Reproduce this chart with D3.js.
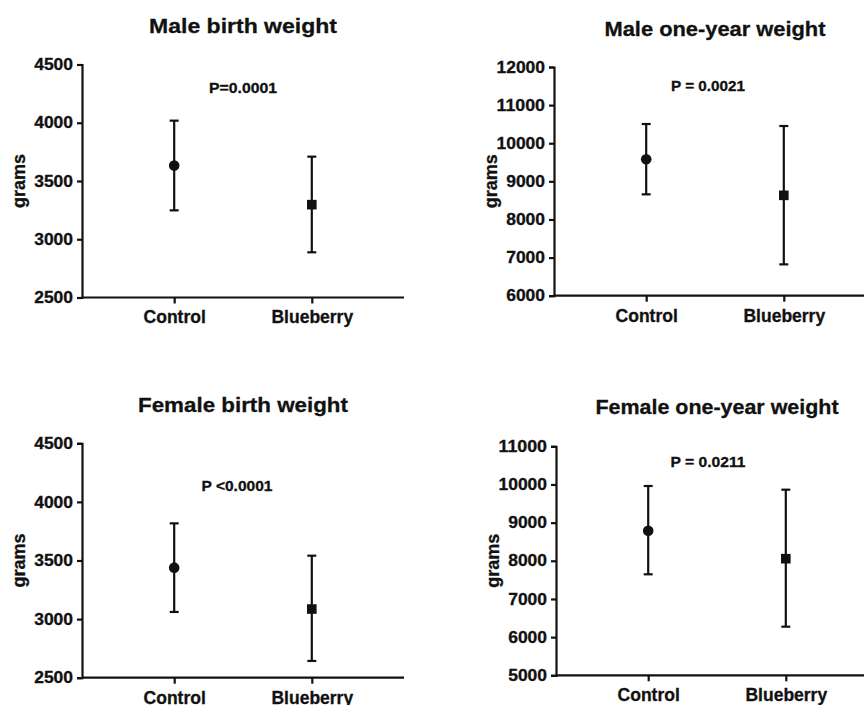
<!DOCTYPE html>
<html>
<head>
<meta charset="utf-8">
<script src="https://cdn.jsdelivr.net/npm/d3@7"></script>
<style>
  body { margin: 0; background: #fff; }
  svg { display: block; }
  text { font-family: "Liberation Sans", Arial, sans-serif; font-weight: bold; fill: #111; stroke: #111; stroke-width: 0.3px; }
</style>
</head>
<body>
<div id="chart"></div>
<script>
// data
var categories = ["Control", "Blueberry"];
var titles = ["Male birth weight", "Male one-year weight", "Female birth weight", "Female one-year weight"];
var pLabels = ["P=0.0001", "P = 0.0021", "P <0.0001", "P = 0.0211"];

var maleBirthMean = [3632, 3297];
var maleBirthLow  = [3248, 2888];
var maleBirthHigh = [4018, 3709];

var maleYearMean = [9578, 8633];
var maleYearLow  = [8659, 6822];
var maleYearHigh = [10504, 10452];

var femaleBirthMean = [3439, 3086];
var femaleBirthLow  = [3061, 2643];
var femaleBirthHigh = [3817, 3541];

var femaleYearMean = [8789, 8055];
var femaleYearLow  = [7646, 6274];
var femaleYearHigh = [9960, 9863];

var birthTicks = [2500, 3000, 3500, 4000, 4500];
var maleYearTicks = [6000, 7000, 8000, 9000, 10000, 11000, 12000];
var femaleYearTicks = [5000, 6000, 7000, 8000, 9000, 10000, 11000];

function init() {
	var W = 864, H = 705;
	var svg = d3.select("#chart").append("svg")
		.attr("width", W)
		.attr("height", H);

	// layout of the four panels
	var panels = [
		{ left: 82,  top: 64.5,  bottom: 297.5, ticks: birthTicks,      mean: maleBirthMean,   lo: maleBirthLow,   hi: maleBirthHigh,   titleY: 33,  pY: 93,  pX: 243, pLen: 68 },
		{ left: 554, top: 67,    bottom: 295.7, ticks: maleYearTicks,   mean: maleYearMean,    lo: maleYearLow,    hi: maleYearHigh,    titleY: 36,  pY: 91,  pX: 708, pLen: 74 },
		{ left: 82,  top: 443.3, bottom: 677.7, ticks: birthTicks,      mean: femaleBirthMean, lo: femaleBirthLow, hi: femaleBirthHigh, titleY: 412, pY: 491, pX: 237, pLen: 71 },
		{ left: 556, top: 446.3, bottom: 675.3, ticks: femaleYearTicks, mean: femaleYearMean,  lo: femaleYearLow,  hi: femaleYearHigh,  titleY: 414, pY: 467, pX: 708, pLen: 75 }
	];
	var plotW = 322;

	panels.forEach(function(p, k) {
		var g = svg.append("g");

		var x = d3.scalePoint()
			.domain(categories)
			.range([p.left, p.left + plotW])
			.padding(0.67);

		var y = d3.scaleLinear()
			.domain(d3.extent(p.ticks))
			.range([p.bottom, p.top]);

		// y axis
		var ya = g.append("g")
			.attr("transform", "translate(" + p.left + ",0)")
			.call(d3.axisLeft(y).tickValues(p.ticks).tickSize(5).tickPadding(4).tickFormat(d3.format("d")));

		// x axis
		var xa = g.append("g")
			.attr("transform", "translate(0," + p.bottom + ")")
			.call(d3.axisBottom(x).tickSize(6).tickPadding(5));

		[ya, xa].forEach(function(a) {
			a.select(".domain").attr("stroke", "#111").attr("stroke-width", 2.2);
			a.selectAll(".tick line").attr("stroke", "#111").attr("stroke-width", 2.2);
			a.selectAll("text").attr("fill", "#111").style("font-family", "Liberation Sans, Arial, sans-serif").style("font-weight", "bold");
		});
		// the picture is a bit wider than the font, so stretch the digits
		ya.selectAll("text")
			.style("font-size", "16px")
			.attr("textLength", function(d) { return String(d).length * 9.7; })
			.attr("lengthAdjust", "spacingAndGlyphs");
		xa.selectAll("text").style("font-size", "17.5px").attr("dy", "0.85em");
		xa.select(".domain").attr("d", "M" + p.left + ",0H" + (p.left + plotW));

		// title
		g.append("text")
			.attr("x", p.left + plotW / 2)
			.attr("y", p.titleY)
			.attr("text-anchor", "middle")
			.style("font-size", "21px")
			.attr("textLength", titles[k].length * 11.05)
			.attr("lengthAdjust", "spacingAndGlyphs")
			.text(titles[k]);

		// p value
		g.append("text")
			.attr("x", p.pX)
			.attr("y", p.pY)
			.attr("text-anchor", "middle")
			.style("font-size", "14.5px")
			.attr("textLength", p.pLen)
			.attr("lengthAdjust", "spacingAndGlyphs")
			.text(pLabels[k]);

		// y label
		g.append("text")
			.attr("transform", "translate(" + (p.left - 63) + "," + ((p.top + p.bottom) / 2) + ") rotate(-90)")
			.attr("text-anchor", "middle")
			.attr("dy", "0.35em")
			.style("font-size", "18px")
			.text("grams");

		// error bars
		var cap = 4.5;
		categories.forEach(function(c, i) {
			var cx = x(c);
			g.append("line")
				.attr("x1", cx).attr("x2", cx)
				.attr("y1", y(p.lo[i])).attr("y2", y(p.hi[i]))
				.attr("stroke", "#111").attr("stroke-width", 2.2);
			[p.lo[i], p.hi[i]].forEach(function(v) {
				g.append("line")
					.attr("x1", cx - cap).attr("x2", cx + cap)
					.attr("y1", y(v)).attr("y2", y(v))
					.attr("stroke", "#111").attr("stroke-width", 2.2);
			});
			if (i === 0) {
				g.append("circle")
					.attr("cx", cx).attr("cy", y(p.mean[i]))
					.attr("r", 5.3)
					.attr("fill", "#111");
			} else {
				g.append("rect")
					.attr("x", cx - 4.8).attr("y", y(p.mean[i]) - 4.8)
					.attr("width", 9.6).attr("height", 9.6)
					.attr("fill", "#111");
			}
		});
	});
}

window.onload = init;
</script>
</body>
</html>
